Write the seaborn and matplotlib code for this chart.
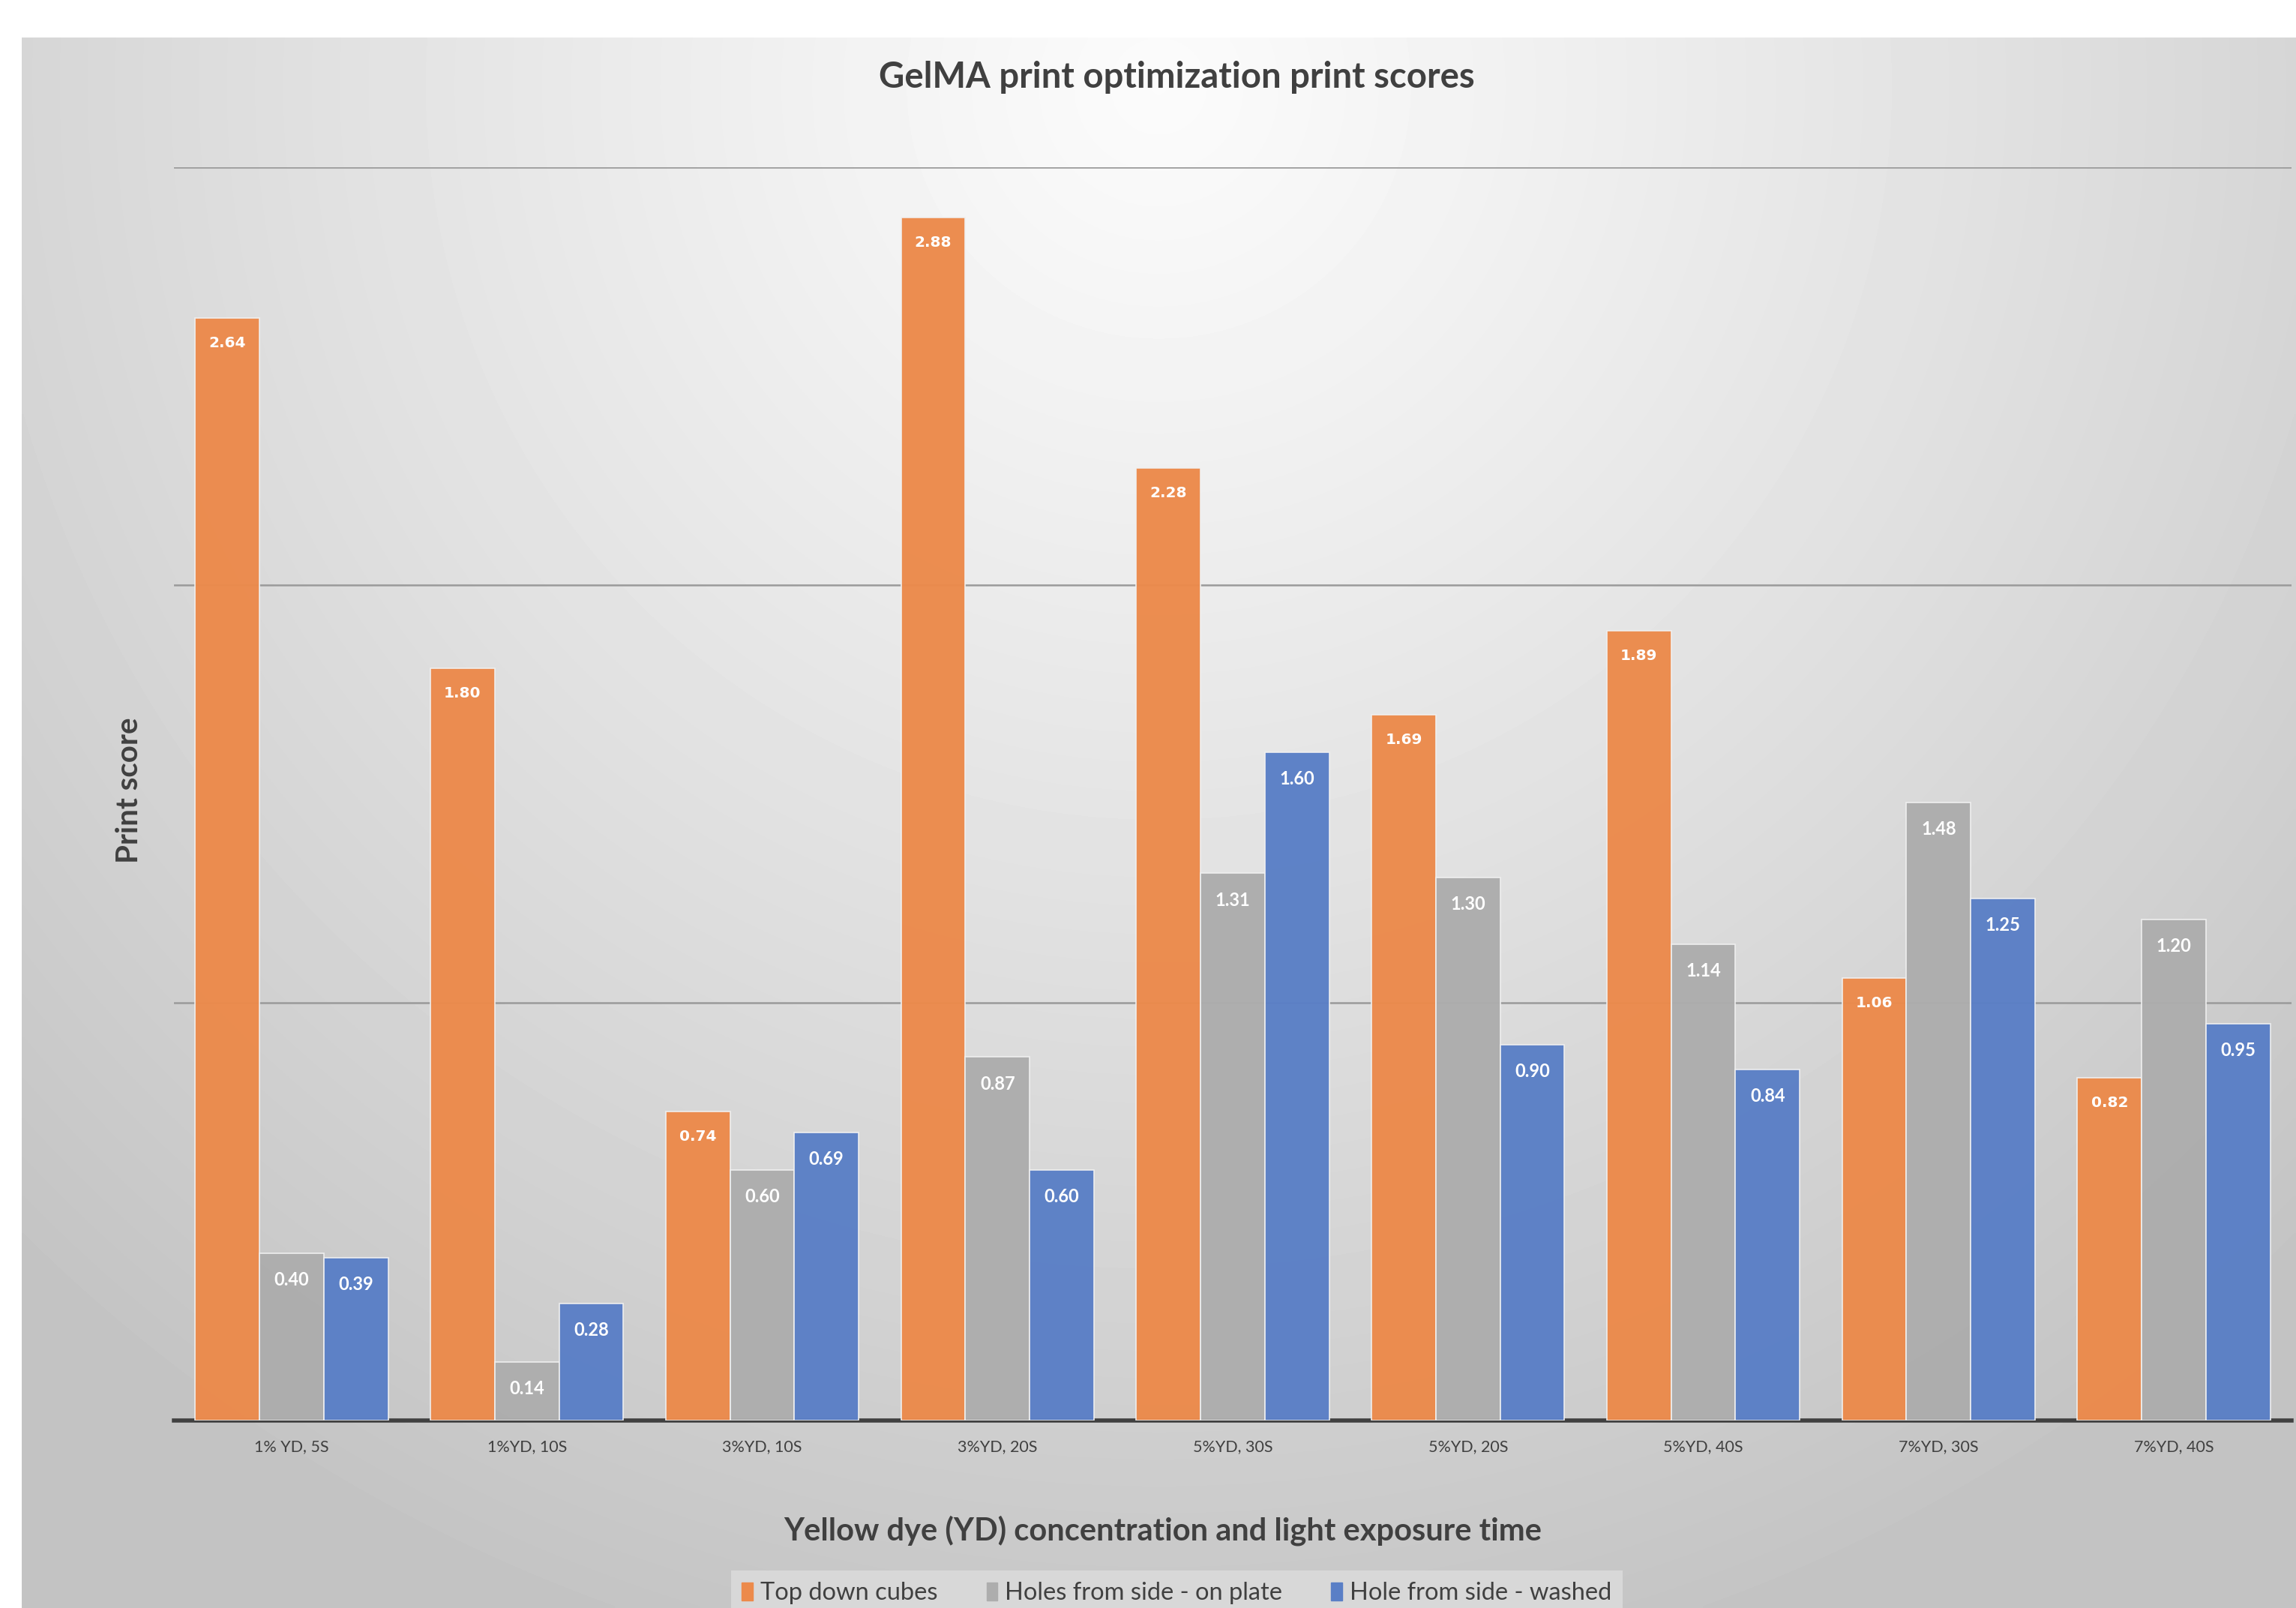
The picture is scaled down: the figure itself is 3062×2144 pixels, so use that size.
import numpy as np
import pandas as pd
import matplotlib
matplotlib.use("Agg")
import matplotlib.pyplot as plt
import seaborn as sns

categories = ["1% YD, 5S", "1%YD, 10S", "3%YD, 10S", "3%YD, 20S", "5%YD, 30S",
              "5%YD, 20S", "5%YD, 40S", "7%YD, 30S", "7%YD, 40S"]
series = ["Top down cubes", "Holes from side - on plate", "Hole from side - washed"]
top_down = [2.64, 1.80, 0.74, 2.88, 2.28, 1.69, 1.89, 1.06, 0.82]
side_plate = [0.40, 0.14, 0.60, 0.87, 1.31, 1.30, 1.14, 1.48, 1.20]
side_washed = [0.39, 0.28, 0.69, 0.60, 1.60, 0.90, 0.84, 1.25, 0.95]

COLORS = ["#EC8A4B", "#ADADAD", "#5A7FC6"]
TEXT = "#404040"

df = pd.DataFrame({
    "cat": categories * 3,
    "series": [s for s in series for _ in categories],
    "score": top_down + side_plate + side_washed,
})

sns.set_theme(style="white")
plt.rcParams["font.family"] = ["Lato", "DejaVu Sans"]

W, H, DPI = 3062, 2144, 100
fig = plt.figure(figsize=(W / DPI, H / DPI), dpi=DPI)
fig.patch.set_facecolor("white")

# radial gradient panel behind the chart
bg = fig.add_axes([29 / W, 0, 1 - 29 / W, 1 - 50 / H], zorder=-10)
yy, xx = np.mgrid[0:1:400j, 0:1:600j]
d = np.sqrt(((xx - 0.5) * 1.45) ** 2 + (yy - 0.03) ** 2)
shade = 0.985 - 0.22 * np.clip(d / 1.05, 0, 1) ** 1.1
bg.imshow(shade, cmap="gray", vmin=0, vmax=1, aspect="auto",
          extent=[0, 1, 1, 0], interpolation="bilinear")
bg.axis("off")

ax = fig.add_axes([232 / W, 1 - 1894 / H, (3056 - 232) / W, (1894 - 223) / H])
ax.patch.set_alpha(0)
sns.barplot(data=df, x="cat", y="score", hue="series", palette=COLORS,
            saturation=1, width=0.82, edgecolor="#f0f0f0", linewidth=1.2,
            alpha=0.97, ax=ax, legend=False, zorder=3)

ax.set_ylim(0, 3)
ax.set_yticks([1, 2, 3])
ax.set_yticklabels([])
ax.tick_params(axis="y", length=0)
ax.yaxis.grid(True, color="#9a9a9a", linewidth=1.8, zorder=0)
ax.set_axisbelow(True)
for s in ["top", "right", "left"]:
    ax.spines[s].set_visible(False)
ax.spines["bottom"].set_color(TEXT)
ax.spines["bottom"].set_linewidth(4)
ax.tick_params(axis="x", length=0, pad=18, labelsize=15.5, labelcolor=TEXT)
ax.set_xlim(-0.5, len(categories) - 0.5)
ax.set_xlabel("")
ax.set_ylabel("")

for i, cont in enumerate(ax.containers):
    if i == 0:
        ax.bar_label(cont, fmt="%.2f", padding=-31, color="white",
                     fontsize=14.5, fontweight="bold", family="DejaVu Sans")
    else:
        ax.bar_label(cont, fmt="%.2f", padding=-34, color="white",
                     fontsize=17, fontweight="bold")

fig.text(1551 / W, 1 - 2041 / H,
         "Yellow dye (YD) concentration and light exposure time",
         ha="center", va="center", fontsize=30, fontweight="bold", color=TEXT)
fig.text(172 / W, 1 - 1054 / H, "Print score", rotation=90,
         ha="center", va="center", fontsize=29, fontweight="bold", color=TEXT)
fig.text(0.5125, 1 - 103 / H, "GelMA print optimization print scores",
         ha="center", va="center", fontsize=34, fontweight="bold", color=TEXT)

handles = [plt.Rectangle((0, 0), 1, 1, color=c) for c in COLORS]
leg = fig.legend(handles, series, loc="center", ncol=3,
                 bbox_to_anchor=(0.5125, 1 - 2124 / H), fontsize=23.5,
                 frameon=True, fancybox=False, handlelength=0.45,
                 handleheight=0.75, handletextpad=0.3, columnspacing=2.0,
                 borderpad=0.45)
leg.get_frame().set_facecolor("#dddddd")
leg.get_frame().set_edgecolor("none")
for t in leg.get_texts():
    t.set_color(TEXT)

fig.savefig("out.png", dpi=DPI)
